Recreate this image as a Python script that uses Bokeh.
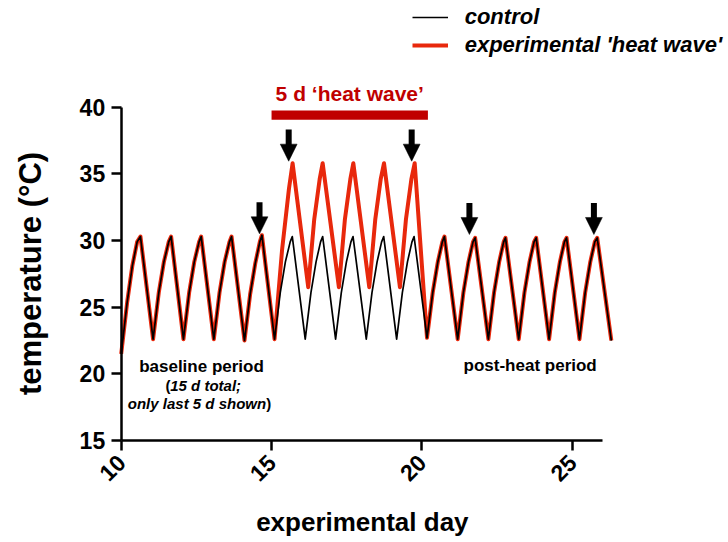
import math
from bokeh.plotting import figure
from bokeh.models import Label, FixedTicker, Range1d, Legend, LegendItem
from bokeh.embed import file_html
from bokeh.resources import INLINE

FONT = "Liberation Sans"
RED = "#e8280c"
DARK_RED = "#c00000"

# ---- data ----
control_day = [
    10.00, 10.20, 10.37, 10.53, 10.64,
    11.06, 11.25, 11.42, 11.58, 11.66,
    12.07, 12.26, 12.43, 12.59, 12.66,
    13.08, 13.27, 13.44, 13.60, 13.67,
    14.10, 14.29, 14.46, 14.61, 14.68,
    15.10, 15.29, 15.46, 15.62, 15.69,
    16.12, 16.31, 16.48, 16.63, 16.70,
    17.13, 17.32, 17.49, 17.64, 17.71,
    18.15, 18.34, 18.51, 18.66, 18.73,
    19.16, 19.35, 19.52, 19.67, 19.74,
    20.17, 20.36, 20.53, 20.68, 20.75,
    21.19, 21.38, 21.55, 21.70, 21.77,
    22.21, 22.40, 22.57, 22.72, 22.78,
    23.22, 23.41, 23.58, 23.73, 23.80,
    24.23, 24.42, 24.59, 24.74, 24.81,
    25.24, 25.43, 25.60, 25.75, 25.83,
    26.30,
]
control_temp = [
    21.5, 25.4, 28.1, 29.9, 30.3,
    22.6, 26.1, 28.4, 29.9, 30.3,
    22.6, 26.1, 28.4, 29.9, 30.3,
    22.6, 26.1, 28.4, 29.9, 30.3,
    22.5, 26.0, 28.3, 29.9, 30.4,
    22.6, 26.1, 28.4, 29.9, 30.3,
    22.6, 26.1, 28.4, 29.9, 30.3,
    22.6, 26.1, 28.4, 29.9, 30.3,
    22.6, 26.1, 28.4, 29.9, 30.3,
    22.6, 26.1, 28.4, 29.9, 30.3,
    22.7, 26.1, 28.4, 29.9, 30.3,
    22.6, 26.1, 28.4, 29.9, 30.2,
    22.6, 26.1, 28.4, 29.9, 30.2,
    22.6, 26.1, 28.4, 29.9, 30.2,
    22.6, 26.1, 28.4, 29.9, 30.2,
    22.6, 26.1, 28.4, 29.9, 30.2,
    22.5,
]
# heat-wave segment of the experimental series (between 15.10 and 20.17)
heat_day = [15.35, 15.58, 15.70,
            16.22, 16.42, 16.60, 16.70,
            17.24, 17.44, 17.62, 17.72,
            18.25, 18.45, 18.63, 18.74,
            19.27, 19.47, 19.65, 19.76]
heat_temp = [29.3, 33.9, 35.8,
             26.5, 31.6, 34.6, 35.8,
             26.5, 31.6, 34.6, 35.8,
             26.5, 31.6, 34.6, 35.8,
             26.5, 31.6, 34.6, 35.8]
heat_start, heat_end = 15.10, 20.17
heat_bar_span = [15.0, 20.2]

arrow_day = [14.60, 15.57, 19.66, 21.58, 25.72]
arrow_tip = [30.5, 35.95, 35.95, 30.45, 30.45]

x_ticks = [10, 15, 20, 25]
y_ticks = [15, 20, 25, 30, 35, 40]

# experimental series: control outside the heat wave, heat segment inside
exp_day, exp_temp = [], []
for d, t in zip(control_day, control_temp):
    if d <= heat_start:
        exp_day.append(d); exp_temp.append(t)
exp_day += heat_day; exp_temp += heat_temp
for d, t in zip(control_day, control_temp):
    if d >= heat_end:
        exp_day.append(d); exp_temp.append(t)

W, H = 726, 540
PX_DAY = 30.07
PX_DEG = 13.333
x0 = 10 - 120.7 / PX_DAY
y_top = 40 + 106.7 / PX_DEG

p = figure(width=W, height=H,
           x_range=Range1d(x0, x0 + W / PX_DAY),
           y_range=Range1d(y_top - H / PX_DEG, y_top),
           output_backend="svg", toolbar_location=None,
           min_border=0, min_border_left=0, min_border_right=0,
           min_border_top=0, min_border_bottom=0)
p.outline_line_color = None
p.grid.visible = False
p.background_fill_color = None
p.border_fill_color = "white"

for ax in (p.xaxis[0], p.yaxis[0]):
    ax.axis_line_width = 2.5
    ax.major_tick_line_width = 2.5
    ax.major_tick_out = 10
    ax.major_tick_in = 0
    ax.minor_tick_line_color = None
    ax.major_label_text_font = FONT
    ax.major_label_text_font_style = "bold"
    ax.major_label_text_font_size = "23px"
    ax.major_label_text_color = "black"
p.xaxis.ticker = FixedTicker(ticks=x_ticks)
p.yaxis.ticker = FixedTicker(ticks=y_ticks)
p.xaxis.bounds = (10, 26)
p.yaxis.bounds = (15, 40)
p.xaxis.fixed_location = 15
p.yaxis.fixed_location = 10
p.xaxis.major_label_orientation = math.pi / 4
p.yaxis.major_label_standoff = 6
p.xaxis.major_label_standoff = 8

r_red = p.line(exp_day, exp_temp, line_color=RED, line_width=4, line_join="round")
r_black = p.line(control_day, control_temp, line_color="black", line_width=1.7, line_join="round")

# heat wave bar + label
p.quad(left=[heat_bar_span[0]], right=[heat_bar_span[1]], bottom=[39.05], top=[39.75],
       fill_color=DARK_RED, line_color=None)
p.add_layout(Label(x=(heat_bar_span[0] + heat_bar_span[1]) / 2, y=41.05, text="5 d \u2018heat wave\u2019",
                   text_font=FONT, text_font_style="bold", text_font_size="21px",
                   text_color=DARK_RED, text_align="center", text_baseline="middle"))

# arrows
p.segment(x0=arrow_day, x1=arrow_day, y0=[t + 1.2 for t in arrow_tip], y1=[t + 2.37 for t in arrow_tip],
          line_color="black", line_width=6, line_cap="butt")
p.patches(xs=[[d - 0.28, d + 0.28, d] for d in arrow_day],
          ys=[[t + 1.28, t + 1.28, t] for t in arrow_tip],
          fill_color="black", line_color="black", line_width=0.5)

# period labels
def lab(x, y, text, size, style="bold", align="center"):
    p.add_layout(Label(x=x, y=y, text=text, text_font=FONT, text_font_style=style,
                       text_font_size=size, text_align=align, text_baseline="middle",
                       text_color="black"))

lab(12.67, 20.55, "baseline period", "17px")
lab(11.47, 19.12, "(", "15px", "bold", "left")
lab(11.63, 19.12, "15 d total;", "15px", "bold italic", "left")
lab(14.82, 17.77, "only last 5 d shown", "15px", "bold italic", "right")
lab(14.82, 17.77, ")", "15px", "bold", "left")
lab(23.6, 20.6, "post-heat period", "17px")

# axis titles
p.add_layout(Label(x=10 - 91 / PX_DAY, y=27.53, text="temperature (\u00b0C)", angle=math.pi / 2,
                   text_font=FONT, text_font_style="bold", text_font_size="31px",
                   text_align="center", text_baseline="middle", text_color="black"))
p.add_layout(Label(x=18.02, y=8.9, text="experimental day",
                   text_font=FONT, text_font_style="bold", text_font_size="26px",
                   text_align="center", text_baseline="middle", text_color="black"))

legend = Legend(items=[LegendItem(label="control", renderers=[r_black]),
                       LegendItem(label="experimental 'heat wave'", renderers=[r_red])],
                location=(411.7, H - 58), orientation="vertical",
                glyph_width=36, glyph_height=20, label_height=20, label_standoff=17,
                spacing=2, padding=0, margin=0, border_line_color=None,
                background_fill_alpha=0, label_text_font=FONT,
                label_text_font_style="bold italic", label_text_font_size="22px",
                label_text_color="black", label_text_baseline="middle")
p.add_layout(legend)

open("out.html", "w").write(file_html(p, INLINE))
